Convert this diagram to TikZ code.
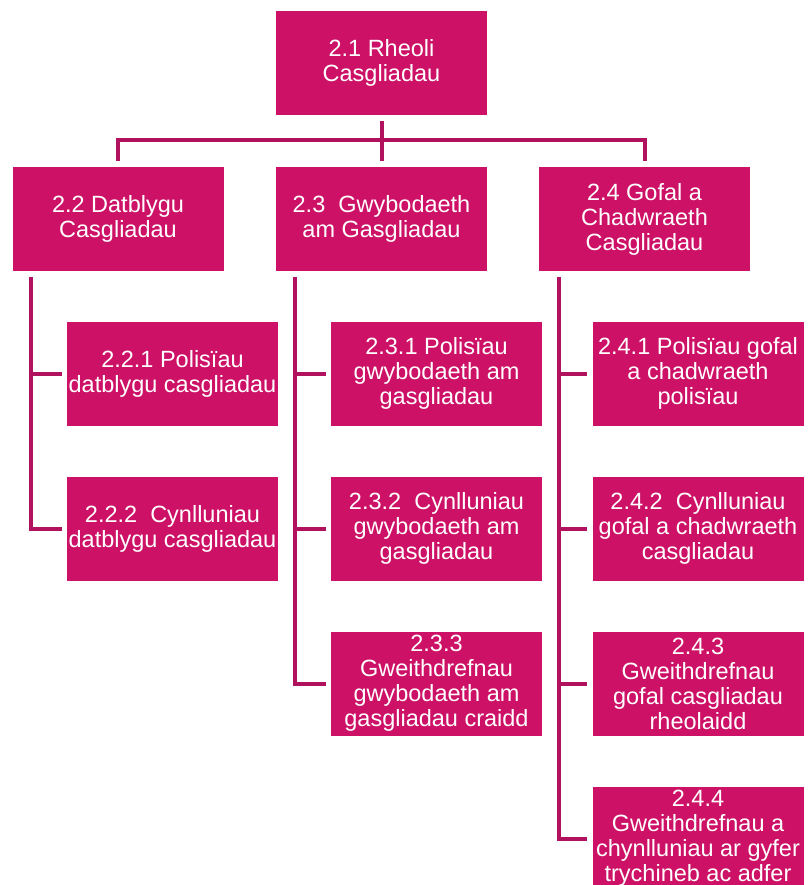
\documentclass[tikz,border=0pt]{standalone}
\usepackage{fontspec}
\setmainfont{Liberation Sans}
\definecolor{boxc}{HTML}{CC1166}
\definecolor{linec}{HTML}{B0125E}
\begin{document}
\begin{tikzpicture}[x=1pt,y=-1pt,
  box/.style={fill=boxc, text=white, minimum width=211pt, minimum height=104pt, inner sep=0pt, align=center, font=\fontsize{23.5}{25}\selectfont},
  conn/.style={draw=linec, line width=4pt}]
\useasboundingbox (0,0) rectangle (808,885);
\node[box] (root) at (381.5,63) {2.1 Rheoli\\Casgliadau};
\node[box] (n22) at (118,219) {2.2 Datblygu\\Casgliadau};
\node[box] (n23) at (381.5,219) {2.3\ \ Gwybodaeth\\am Gasgliadau};
\node[box] (n24) at (644.5,219) {2.4 Gofal a\\Chadwraeth\\Casgliadau};
\node[box] (n221) at (172.5,373.5) {2.2.1 Polisïau\\datblygu casgliadau};
\node[box] (n222) at (172.5,528.5) {2.2.2\ \ Cynlluniau\\datblygu casgliadau};
\node[box] (n231) at (436.5,373.5) {2.3.1 Polisïau\\gwybodaeth am\\gasgliadau};
\node[box] (n232) at (436.5,528.5) {2.3.2\ \ Cynlluniau\\gwybodaeth am\\gasgliadau};
\node[box] (n233) at (436.5,683.5) {2.3.3\\Gweithdrefnau\\gwybodaeth am\\gasgliadau craidd};
\node[box] (n241) at (698,373.5) {2.4.1 Polisïau gofal\\a chadwraeth\\polisïau};
\node[box] (n242) at (698,528.5) {2.4.2\ \ Cynlluniau\\gofal a chadwraeth\\casgliadau};
\node[box] (n243) at (698,683.5) {2.4.3\\Gweithdrefnau\\gofal casgliadau\\rheolaidd};
\node[box] (n244) at (698,838.5) {2.4.4\\Gweithdrefnau a\\chynlluniau ar gyfer\\trychineb ac adfer};
\coordinate (bus) at (381.5,140);
\draw[conn] ([yshift=-6pt]root.south) -- ([yshift=6pt]n23.north);
\draw[conn] ([yshift=6pt]n22.north) |- (bus) -| ([yshift=6pt]n24.north);
\coordinate (s22) at ([xshift=19pt,yshift=-6pt]n22.south west);
\coordinate (s23) at ([xshift=19pt,yshift=-6pt]n23.south west);
\coordinate (s24) at ([xshift=20pt,yshift=-6pt]n24.south west);
\draw[conn] (s22) |- ([xshift=-5pt]n222.west);
\draw[conn] (s22 |- n221.west) -- ([xshift=-5pt]n221.west);
\draw[conn] (s23) |- ([xshift=-5pt]n233.west);
\draw[conn] (s23 |- n231.west) -- ([xshift=-5pt]n231.west);
\draw[conn] (s23 |- n232.west) -- ([xshift=-5pt]n232.west);
\draw[conn] (s24) |- ([xshift=-5pt]n244.west);
\draw[conn] (s24 |- n241.west) -- ([xshift=-5pt]n241.west);
\draw[conn] (s24 |- n242.west) -- ([xshift=-5pt]n242.west);
\draw[conn] (s24 |- n243.west) -- ([xshift=-5pt]n243.west);
\end{tikzpicture}
\end{document}
